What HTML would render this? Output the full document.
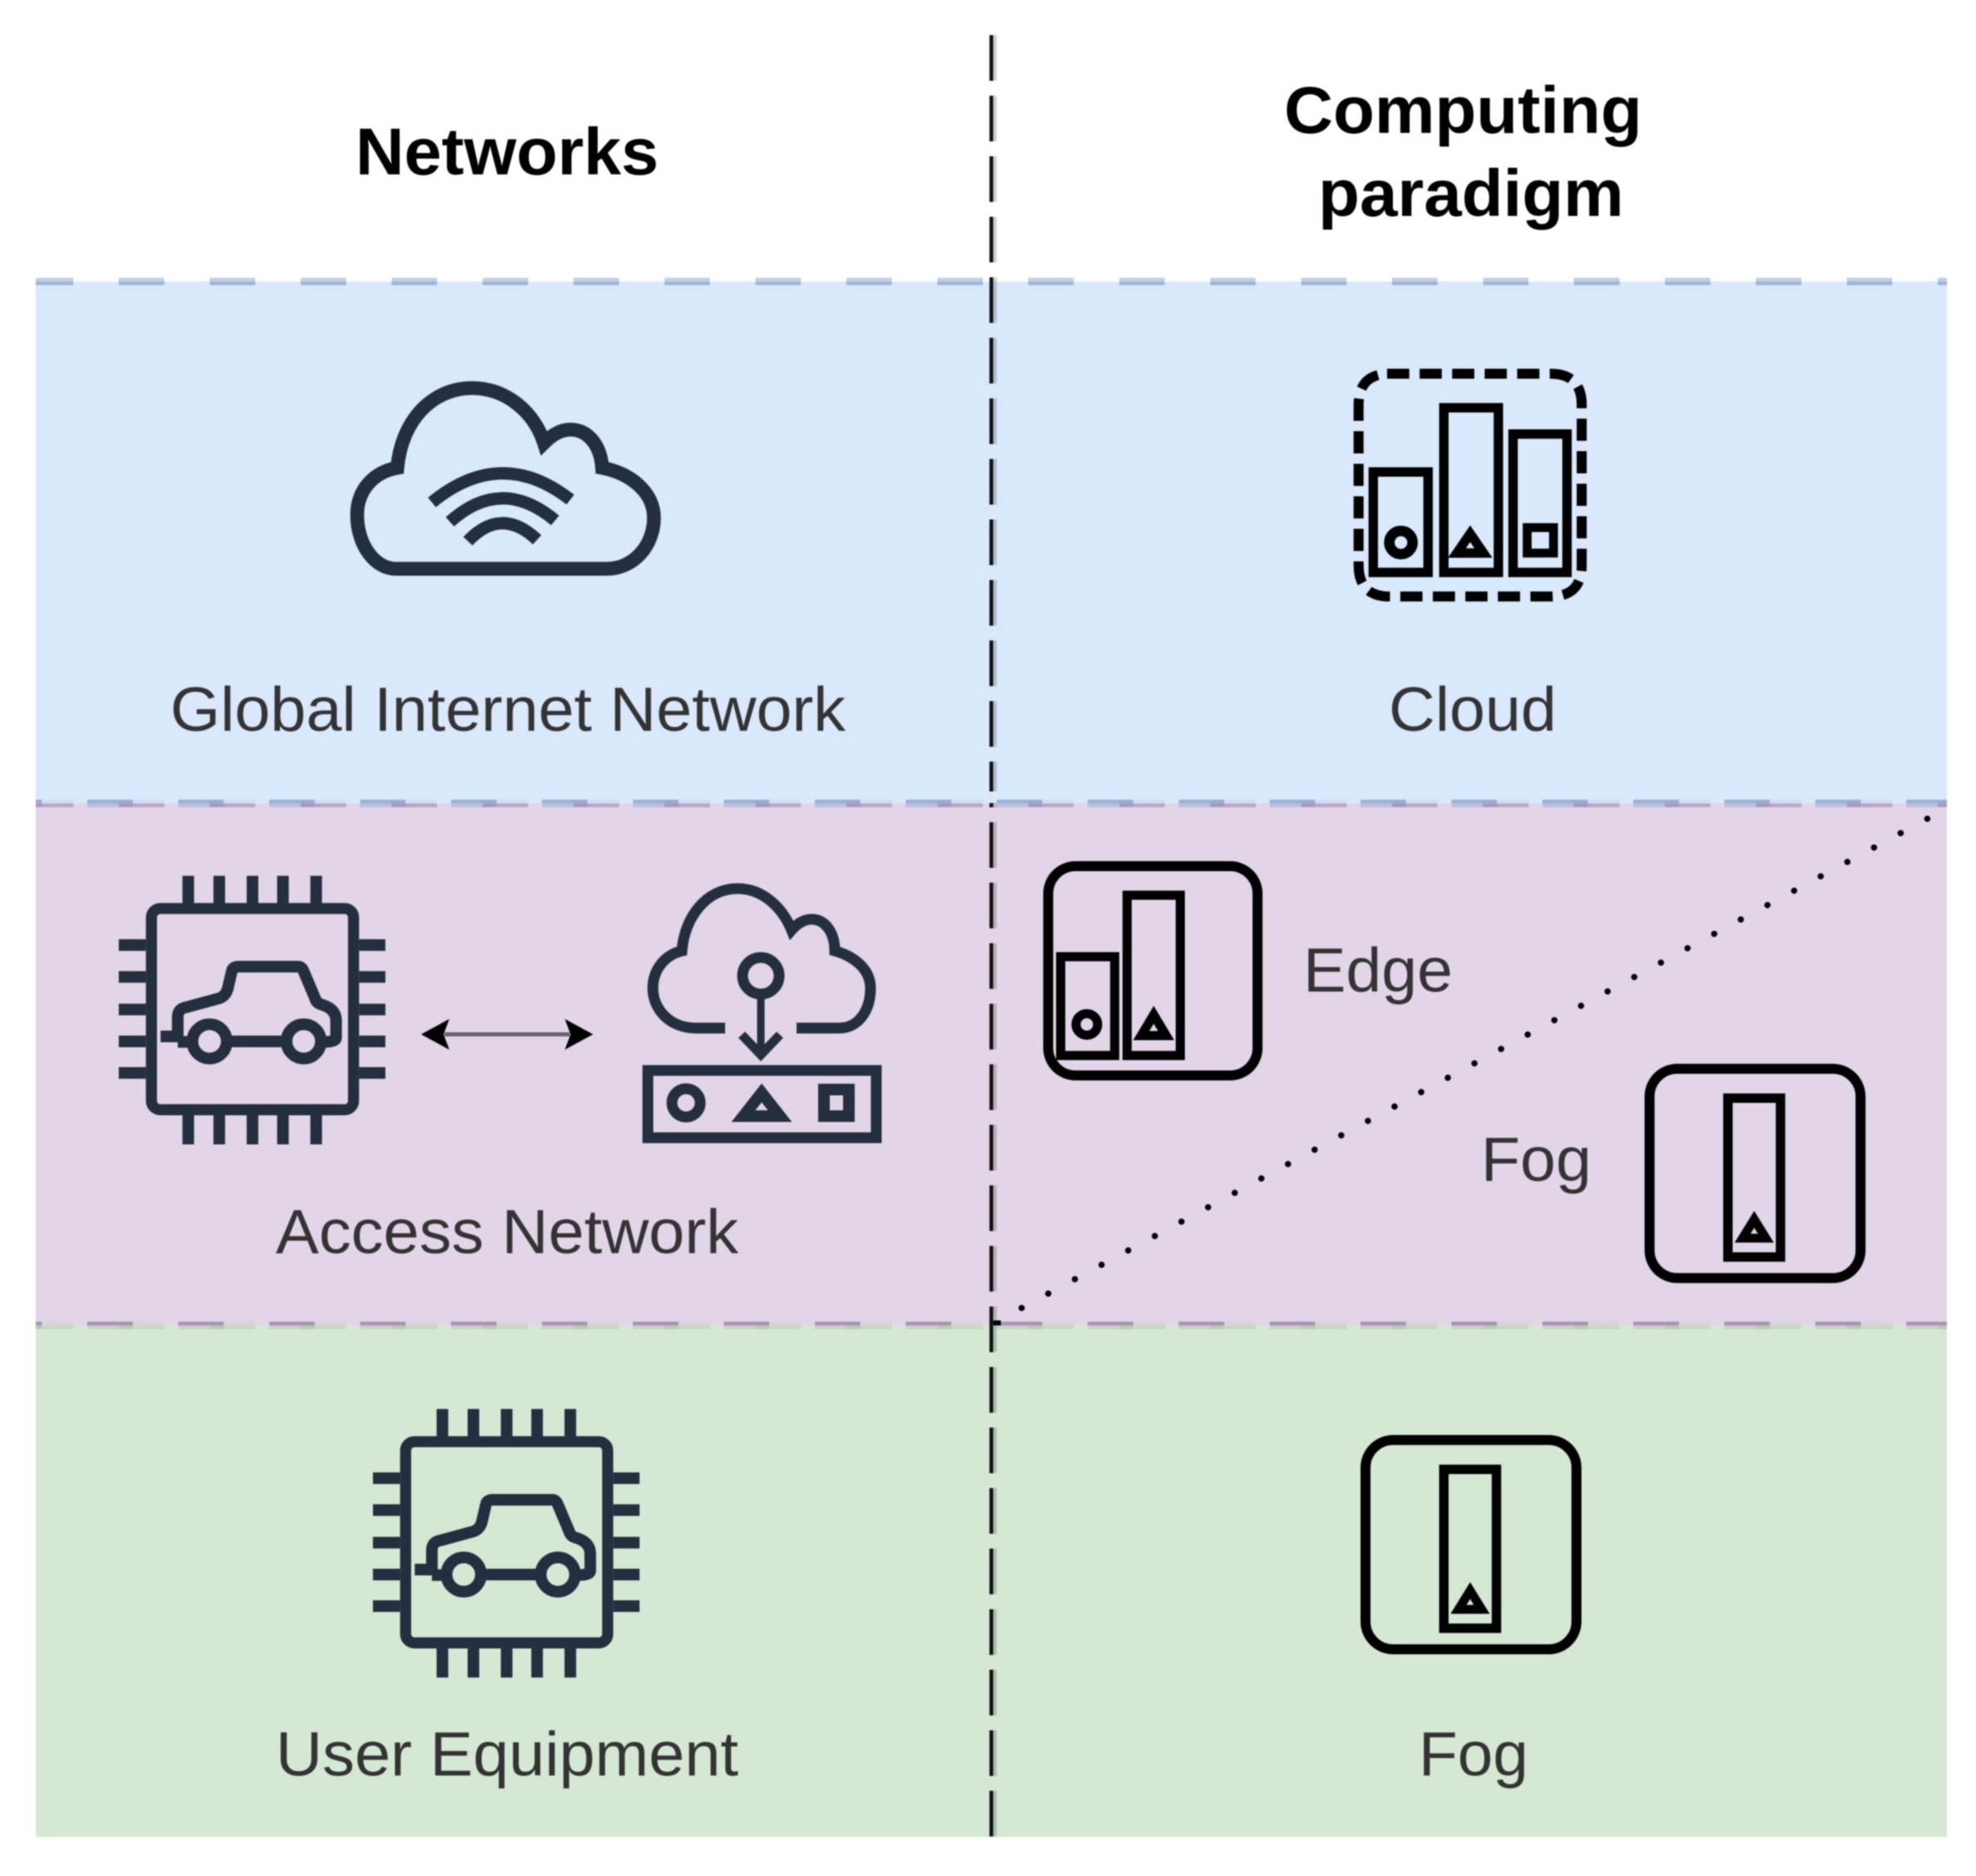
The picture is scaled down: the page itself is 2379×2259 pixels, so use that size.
<!DOCTYPE html>
<html>
<head>
<meta charset="utf-8">
<style>
html,body{margin:0;padding:0;background:#fff;}
svg{display:block;filter:blur(0.8px);}
text{font-family:"Liberation Sans",Arial,sans-serif;}
.b{font-weight:bold;font-size:80px;fill:#000;}
.r{font-size:75px;fill:#333;}
</style>
</head>
<body>
<svg width="2379" height="2259" viewBox="0 0 2379 2259" xmlns="http://www.w3.org/2000/svg">
<defs>
  <g id="chip" fill="none" stroke="#232f3e">
    <rect x="205" y="168" width="730" height="727" rx="32" stroke-width="40"/>
    <g stroke-width="42">
      <path d="M338 50V150M450 50V150M570 50V150M680 50V150M800 50V150"/>
      <path d="M338 910V1020M450 910V1020M570 910V1020M680 910V1020M800 910V1020"/>
      <path d="M87 300H185M87 415H185M87 533H185M87 648H185M87 762H185"/>
      <path d="M955 300H1050M955 415H1050M955 533H1050M955 648H1050M955 762H1050"/>
      <path d="M238 630H300M300 640V560Q300 530 330 525L440 495Q470 490 480 460L495 395Q498 378 520 378H735Q748 378 755 395L795 490Q800 510 820 515Q870 530 872 570V635Q870 650 830 650M345 650H300M480 648H690"/>
      <circle cx="415" cy="648" r="62"/>
      <circle cx="755" cy="648" r="62"/>
    </g>
  </g>
  <g id="fog" fill="none" stroke="#000">
    <rect x="72" y="102" width="762" height="756" rx="100" stroke-width="36"/>
    <rect x="355" y="208" width="190" height="574" stroke-width="34"/>
    <polygon points="450,646 408,714 492,714" stroke-width="32"/>
  </g>
</defs>

<rect width="2379" height="2259" fill="#fff"/>
<rect x="43" y="339" width="2301" height="628.5" fill="#dae8fc"/>
<rect x="43" y="967.5" width="2301" height="628.5" fill="#e1d5e7"/>
<rect x="43" y="1596" width="2301" height="616" fill="#d5e8d4"/>

<!-- vertical divider -->
<line x1="1197.5" y1="42.3" x2="1197.5" y2="2212" stroke="#000" stroke-opacity="0.18" stroke-width="5" stroke-dasharray="55 17.9"/>
<line x1="1193.5" y1="42.3" x2="1193.5" y2="2212" stroke="#111" stroke-width="4.5" stroke-dasharray="55 17.9"/>
<rect x="1189" y="953" width="12" height="14" fill="#dae8fc"/>

<!-- dashed borders -->
<g stroke-width="4.5" stroke-dasharray="54.75 54.75" fill="none">
  <line x1="43" x2="2344" y1="336.75" y2="336.75" stroke="#6c8ebf" stroke-opacity=".42" stroke-dashoffset="9.5"/>
  <line x1="43" x2="2344" y1="341.25" y2="341.25" stroke="#6c8ebf" stroke-opacity=".55" stroke-dashoffset="9.5"/>
  <line x1="43" x2="2344" y1="965.25" y2="965.25" stroke="#6c8ebf" stroke-opacity=".6" stroke-dashoffset="47.5"/>
  <line x1="43" x2="2344" y1="969.75" y2="969.75" stroke="#6c8ebf" stroke-opacity=".3" stroke-dashoffset="47.5"/>
  <line x1="43" x2="2344" y1="965.25" y2="965.25" stroke="#9673a6" stroke-opacity=".1" stroke-dashoffset="9.5"/>
  <line x1="43" x2="2344" y1="969.75" y2="969.75" stroke="#9673a6" stroke-opacity=".5" stroke-dashoffset="9.5"/>
  <line x1="43" x2="2344" y1="1593.75" y2="1593.75" stroke="#9673a6" stroke-opacity=".7" stroke-dashoffset="47.5"/>
  <line x1="43" x2="2344" y1="1598.25" y2="1598.25" stroke="#9673a6" stroke-opacity=".2" stroke-dashoffset="47.5"/>
  <line x1="43" x2="2344" y1="1593.75" y2="1593.75" stroke="#82b366" stroke-opacity=".08" stroke-dashoffset="9.5"/>
  <line x1="43" x2="2344" y1="1598.25" y2="1598.25" stroke="#82b366" stroke-opacity=".22" stroke-dashoffset="9.5"/>
</g>

<!-- dotted diagonal -->
<line x1="1230" y1="1575" x2="2322" y2="985" stroke="#000" stroke-width="7.5" stroke-linecap="round" stroke-dasharray="0.01 36.44"/>
<line x1="1196" y1="1593" x2="1205" y2="1593" stroke="#000" stroke-width="6"/>

<!-- headers -->
<text class="b" x="428" y="210" textLength="365" lengthAdjust="spacingAndGlyphs">Networks</text>
<text class="b" x="1546" y="160" textLength="431" lengthAdjust="spacingAndGlyphs">Computing</text>
<text class="b" x="1587" y="260" textLength="368" lengthAdjust="spacingAndGlyphs">paradigm</text>

<!-- labels -->
<text class="r" x="205" y="880" textLength="813" lengthAdjust="spacingAndGlyphs">Global Internet Network</text>
<text class="r" x="1672" y="880" textLength="202" lengthAdjust="spacingAndGlyphs">Cloud</text>
<text class="r" x="332" y="1509" textLength="557" lengthAdjust="spacingAndGlyphs">Access Network</text>
<text class="r" x="332" y="2138" textLength="557" lengthAdjust="spacingAndGlyphs">User Equipment</text>
<text class="r" x="1708" y="2138" textLength="132" lengthAdjust="spacingAndGlyphs">Fog</text>
<text class="r" x="1569" y="1194" textLength="180" lengthAdjust="spacingAndGlyphs">Edge</text>
<text class="r" x="1783" y="1422" textLength="133" lengthAdjust="spacingAndGlyphs">Fog</text>

<!-- wifi cloud -->
<g transform="translate(380,420) scale(0.3333)" fill="none" stroke="#232f3e">
  <path stroke-width="50" d="M290 795H1050C1150 795 1222 710 1222 610C1222 520 1140 450 1035 430C1030 350 985 292 920 292C885 292 855 310 825 340C790 230 690 142 565 142C420 142 310 260 295 430C210 445 150 510 150 600C150 710 215 795 290 795Z"/>
  <path stroke-width="45" d="M420 555Q670 350 920 545M485 625Q670 458 865 620M550 695Q670 568 800 690"/>
</g>

<!-- cloud compute icon -->
<g transform="translate(1600,420) scale(0.3333)" fill="none" stroke="#000">
  <path stroke-width="36" stroke-dasharray="80 37.5" d="M210 90H800Q913 90 913 203V782Q913 895 800 895H220Q107 895 107 782V203Q107 90 220 90H210"/>
  <g stroke-width="34">
    <rect x="160" y="445" width="198" height="363"/>
    <rect x="415" y="213" width="197" height="595"/>
    <rect x="665" y="308" width="195" height="500"/>
  </g>
  <circle cx="260" cy="700" r="42" stroke-width="38"/>
  <polygon points="510,668 462,738 558,738" stroke-width="34"/>
  <rect x="716" y="646" width="95" height="92" stroke-width="32"/>
</g>

<!-- chips -->
<use href="#chip" transform="translate(114,1038) scale(0.3333)"/>
<use href="#chip" transform="translate(420,1680) scale(0.3333)"/>

<!-- double arrow -->
<line x1="535" y1="1245.5" x2="686" y2="1245.5" stroke="#6b626e" stroke-width="5"/>
<polygon points="507,1245.5 541,1227 534,1245.5 541,1264" fill="#000"/>
<polygon points="714,1245.5 680,1227 687,1245.5 680,1264" fill="#000"/>

<!-- cloud with pin -->
<g fill="none" stroke="#232f3e">
  <path stroke-width="13" d="M873 1238H838C806 1238 786 1215 786 1190C786 1168 800 1150 821 1145C824 1105 850 1070 888 1070C920 1070 943 1095 953 1120C960 1112 968 1107 977 1107C995 1107 1005 1125 1005 1145C1030 1152 1048 1168 1048 1190C1048 1215 1035 1238 1010 1238H959"/>
  <circle cx="916" cy="1175" r="22" stroke-width="13"/>
  <path stroke-width="9" d="M916 1203V1270"/>
  <path stroke-width="11" d="M893 1246L916 1270L939 1246"/>
  <rect x="780" y="1289" width="275" height="81" stroke-width="13"/>
  <circle cx="826" cy="1328" r="17" stroke-width="13"/>
  <polygon points="917,1316 895,1344 939,1344" stroke-width="14"/>
  <rect x="992" y="1312" width="30" height="32" stroke-width="14"/>
</g>

<!-- fog icons -->
<use href="#fog" transform="translate(1620,1700) scale(0.3333)"/>
<use href="#fog" transform="translate(1962,1253) scale(0.3333)"/>

<!-- edge icon -->
<g fill="none" stroke="#000">
  <rect x="1262" y="1043" width="252" height="252" rx="33" stroke-width="12"/>
  <rect x="1277" y="1152" width="65" height="119" stroke-width="11"/>
  <rect x="1357" y="1078" width="64" height="193" stroke-width="11"/>
  <circle cx="1308.5" cy="1233.6" r="13" stroke-width="11"/>
  <polygon points="1389,1222 1374,1247 1404,1247" stroke-width="11"/>
</g>
</svg>
</body>
</html>
